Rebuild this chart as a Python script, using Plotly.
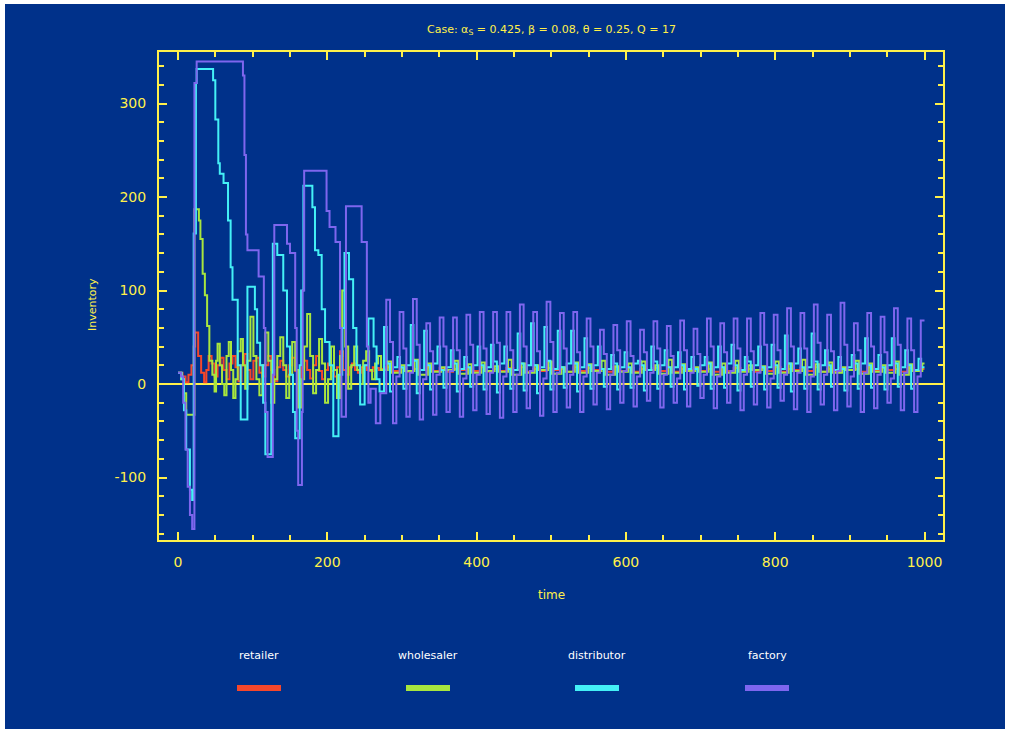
import plotly.graph_objects as go

# ---------------- DATA ----------------
series_names = ["retailer", "wholesaler", "distributor", "factory"]

# early (transient) phase, step knots (time, inventory)
retailer_t = [0, 6, 10, 14, 18, 21, 23, 27, 31, 35, 38, 41, 45, 49, 53, 57, 61, 65, 69, 73, 77, 81, 85, 89, 93, 97,
              101, 105, 109, 113, 117, 121, 125, 129, 133, 137, 141, 145, 149, 153, 157, 161, 165, 169, 173, 177,
              181, 185, 189, 193, 197, 201, 205, 209, 213, 217, 221, 225, 229, 233, 237, 241, 245, 249, 253, 257,
              261, 265, 269, 273]
retailer_v = [12, 8, 2, 10, 20, 40, 55, 30, 12, 2, 15, 30, 22, 8, 20, 28, 15, 5, 22, 30, 18, 3, 20, 32, 15, 5,
              25, 28, 12, 8, 20, 30, 15, 3, 18, 25, 15, 8, 20, 28, 14, 5, 18, 25, 15, 6,
              20, 30, 14, 5, 15, 22, 14, 8, 18, 35, 15, 10, 18, 22, 15, 12, 18, 20, 15, 14,
              18, 17, 15, 16]

wholesaler_t = [0, 4, 8, 11, 22, 28, 30, 33, 36, 39, 42, 46, 49, 51, 53, 56, 59, 62, 65, 68, 71, 74, 77, 80, 84, 87,
                90, 93, 97, 101, 105, 109, 113, 117, 121, 125, 129, 133, 137, 141, 145, 149, 153, 157, 161, 165,
                169, 173, 177, 181, 185, 189, 193, 197, 201, 205, 209, 213, 217, 220, 224, 228, 232, 236, 240, 244,
                248, 252, 256, 260, 264, 268, 272]
wholesaler_v = [12, 5, -10, -33, 187, 175, 155, 118, 95, 62, 25, 10, -8, 25, 43, 20, 0, -12, 30, 45, 15, -15, 5, 35, 48, 20,
                -5, 25, 72, 30, 5, -12, 20, 55, 25, -20, 5, 30, 50, 20, -15, 10, 45, 15, -25, 5,
                40, 75, 30, -10, 15, 48, 22, -20, 5, 40, 15, -15, 30, 100, 40, -5, 20, 40, 15, 0,
                25, 35, 15, 5, 22, 30, 15]

distributor_t = [0, 5, 8, 11, 16, 19, 21, 24, 25, 47, 50, 54, 56, 61, 67, 70.5, 73, 80, 84,
                 93, 103, 106, 110, 114, 117, 125, 127, 133, 141, 146, 150, 154, 157, 163, 165, 168, 180, 183.5, 188,
                 192.5, 197, 203, 208, 215, 220, 223, 229, 234.6, 239, 244, 250, 255, 262, 266, 270]
distributor_v = [12, 5, -28, -70, -113, -124, 161, 322, 337, 325, 283, 236, 225, 215, 175, 125, 90, 20, -38,
                 104, 80, 44, 20, -20, -75, 0, 150, 138, 100, 40, 10, -30, -58, 20, 100, 212, 189, 143, 138,
                 80, 45, 20, -56, 10, 60, 140, 112, 60, 20, -22, 20, 70, 40, 5, -8]

factory_t = [0, 4, 7, 10, 13, 16, 19, 22, 25, 87, 89, 91, 93, 108, 115, 117, 120, 127, 129, 146, 150, 157, 159,
             161, 166, 167, 169, 199, 203, 211, 217, 219, 225, 246, 253, 255, 258, 265, 271]
factory_v = [12, 8, -20, -70, -110, -140, -155, 322, 345, 330, 245, 160, 143, 115, 60, -30, -78, 10, 170, 150, 140, 60, -50,
             -108, -30, 100, 228, 185, 168, 152, 60, -35, 190, 152, 40, -20, -5, -42, -10]

# oscillating phase: one value per ~18-step cycle and level
factory_peak = [90, 77, 91, 65, 71, 71, 74, 77, 77, 77, 85, 77, 88, 76, 77, 70, 58, 63, 67, 58, 67,
                62, 68, 59, 70, 65, 70, 70, 76, 74, 81, 76, 85, 74, 87, 65, 76, 72, 81, 70, 68]
factory_shoulder = [45, 38, 42, 35, 40, 36, 42, 38, 44, 36, 40, 35, 45, 38, 34, 40, 32, 36, 30, 34, 38,
                    30, 36, 32, 40, 34, 38, 35, 42, 36, 40, 38, 44, 35, 42, 36, 40, 34, 42, 36, 35]
factory_trough = [-42, -35, -38, -33, -30, -35, -28, -32, -36, -30, -26, -34, -30, -25, -30, -22, -27, -20, -24, -18, -25,
                  -20, -24, -15, -26, -20, -28, -22, -25, -18, -27, -30, -22, -28, -24, -30, -26, -20, -28, -30, -25]
factory_low = [8, 12, 5, 10, 14, 6, 10, 12, 8, 10, 14, 6, 12, 10, 8, 12, 10, 14, 8, 12, 10,
               6, 12, 10, 8, 14, 10, 12, 6, 10, 12, 8, 10, 14, 8, 12, 10, 6, 12, 8, 10]

distributor_peak = [61, 29, 63, 57, 40, 36, 29, 40, 42, 40, 54, 65, 61, 57, 57, 49, 40, 31, 34, 25, 40,
                    36, 34, 29, 29, 40, 42, 29, 40, 42, 52, 38, 54, 36, 29, 31, 49, 31, 49, 36, 27]
distributor_mid = [22, 18, 25, 20, 15, 22, 18, 20, 24, 16, 22, 20, 25, 18, 22, 20, 16, 22, 18, 20, 24,
                   18, 20, 16, 22, 18, 20, 24, 18, 20, 22, 18, 24, 20, 16, 22, 20, 18, 22, 20, 18]
distributor_trough = [-8, -5, -10, -6, -4, -8, -3, -6, -9, -5, -7, -10, -6, -4, -8, -5, -3, -6, -4, -7, -5,
                      -3, -6, -2, -5, -4, -7, -3, -6, -4, -8, -5, -6, -3, -7, -5, -4, -6, -3, -5, -4]
distributor_low = [18, 20, 15, 22, 18, 16, 20, 18, 22, 15, 20, 18, 16, 22, 18, 20, 16, 18, 22, 15, 20,
                   18, 16, 20, 18, 22, 15, 20, 18, 16, 22, 18, 20, 15, 18, 22, 16, 20, 18, 15, 18]

wholesaler_high = [24, 20, 26, 22, 18, 25, 21, 23, 19, 26, 22, 20, 24, 18, 23, 21, 25, 19, 22, 24, 20,
                   26, 21, 18, 23, 22, 25, 20, 19, 24, 22, 26, 21, 23, 18, 25, 22, 20, 24, 21, 22]
wholesaler_low = [12, 14, 10, 13, 15, 11, 12, 14, 13, 10, 12, 15, 11, 13, 12, 14, 10, 13, 12, 15, 11,
                  12, 14, 13, 10, 12, 13, 15, 11, 12, 14, 10, 13, 12, 15, 11, 13, 12, 10, 14, 12]

retailer_high = [18, 17, 16, 18, 17, 16, 17, 18, 16, 17, 18, 16, 17, 16, 18, 17, 16, 18, 17, 16, 17,
                 18, 16, 17, 16, 18, 17, 16, 17, 18, 16, 17, 18, 16, 17, 16, 18, 17, 16, 17, 16]
retailer_low = [14, 13, 15, 14, 13, 15, 14, 13, 14, 15, 13, 14, 15, 13, 14, 15, 13, 14, 13, 15, 14,
                13, 15, 14, 13, 14, 15, 13, 14, 13, 15, 14, 13, 14, 15, 13, 14, 15, 13, 14, 13]

cycle_start = 279.0
cycle_period = 17.9
t_end = 1000

y_tickvals = [-100, 0, 100, 200, 300]
y_ticktext = ["-100", "0", "100", "200", "300"]
x_tickvals = [0, 200, 400, 600, 800, 1000]
x_ticktext = ["0", "200", "400", "600", "800", "1000"]

title_text = "Case: α<sub>S</sub> = 0.425, β = 0.08, θ = 0.25, Q = 17"

# ---------------- STYLE ----------------
BG = "#00318A"
YEL = "#FFF04A"
colors = {"retailer": "#F5472B", "wholesaler": "#A8E63E",
          "distributor": "#44F0F6", "factory": "#7E66EE"}

W, H = 1010, 733
L, R, T, B = 159, 943, 52, 540
x_range = [(L - 178) / 0.7465, (R - 178) / 0.7465]
y_range = [(384 - B) / 0.935, (384 - T) / 0.935]


def expand(t0, v0, levels, offsets, shift=0.0):
    t, v = list(t0), list(v0)
    n = len(levels[0])
    for k in range(n):
        base = cycle_start + shift + k * cycle_period
        for off, lev in zip(offsets, levels):
            tt = base + off
            if tt >= t_end:
                break
            t.append(tt)
            v.append(lev[k])
    t.append(t_end)
    v.append(v[-1])
    return t, v


data = {
    "retailer": expand(retailer_t, retailer_v, [retailer_high, retailer_low], [0, 9]),
    "wholesaler": expand(wholesaler_t, wholesaler_v, [wholesaler_high, wholesaler_low], [2, 7]),
    "distributor": expand(distributor_t, distributor_v,
                          [distributor_peak, distributor_mid, distributor_trough, distributor_low],
                          [0, 3.5, 8, 12], shift=-3),
    "factory": expand(factory_t, factory_v,
                      [factory_peak, factory_shoulder, factory_trough, factory_low],
                      [0, 5, 9, 13.5]),
}

fig = go.Figure()
for name in series_names:
    t, v = data[name]
    fig.add_trace(go.Scatter(x=t, y=v, mode="lines", name=name,
                             line=dict(color=colors[name], width=2, shape="hv"),
                             showlegend=False))


def px_x(px):
    return (px - L) / (R - L)


def px_y(py):
    return (B - py) / (B - T)


shapes = [dict(type="rect", xref="paper", yref="paper",
               x0=px_x(5), x1=px_x(1005), y0=px_y(729), y1=px_y(4),
               fillcolor=BG, line=dict(width=0), layer="below")]
annotations = [
    dict(text=title_text, x=px_x(551), y=px_y(30), xref="paper", yref="paper",
         showarrow=False, font=dict(color=YEL, size=11, family="DejaVu Sans"),
         xanchor="center", yanchor="middle"),
    dict(text="time", x=px_x(551), y=px_y(595), xref="paper", yref="paper",
         showarrow=False, font=dict(color=YEL, size=12, family="DejaVu Sans"),
         xanchor="center", yanchor="middle"),
    dict(text="Inventory", x=px_x(92), y=px_y(305), xref="paper", yref="paper",
         showarrow=False, textangle=-90, font=dict(color=YEL, size=11, family="DejaVu Sans"),
         xanchor="center", yanchor="middle"),
]
legend_centers = [259, 428, 597, 767]
for name, cx in zip(series_names, legend_centers):
    annotations.append(dict(text=name, x=px_x(cx), y=px_y(655), xref="paper", yref="paper",
                            showarrow=False, font=dict(color="white", size=11, family="DejaVu Sans"),
                            xanchor="center", yanchor="middle"))
    shapes.append(dict(type="line", xref="paper", yref="paper",
                       x0=px_x(cx - 22), x1=px_x(cx + 22), y0=px_y(688), y1=px_y(688),
                       line=dict(color=colors[name], width=6), layer="above"))

axis_common = dict(showline=True, linecolor=YEL, linewidth=2, mirror="allticks",
                   ticks="inside", ticklen=8, tickwidth=2, tickcolor=YEL,
                   showgrid=False, tickfont=dict(color=YEL, size=14, family="DejaVu Sans"))

fig.update_layout(
    width=W, height=H, autosize=False,
    margin=dict(l=L, r=W - R, t=T, b=H - B, pad=0),
    paper_bgcolor="white", plot_bgcolor=BG,
    shapes=shapes, annotations=annotations,
    xaxis=dict(range=x_range, tickvals=x_tickvals, ticktext=x_ticktext, zeroline=False,
               ticklabelstandoff=8,
               minor=dict(dtick=50, tick0=0, ticks="inside", ticklen=5, tickwidth=2, tickcolor=YEL),
               **axis_common),
    yaxis=dict(range=y_range, tickvals=y_tickvals, ticktext=y_ticktext,
               zeroline=True, zerolinecolor=YEL, zerolinewidth=2, ticklabelstandoff=8,
               minor=dict(dtick=20, tick0=0, ticks="inside", ticklen=5, tickwidth=2, tickcolor=YEL),
               **axis_common),
)

fig.write_html("out.html")
